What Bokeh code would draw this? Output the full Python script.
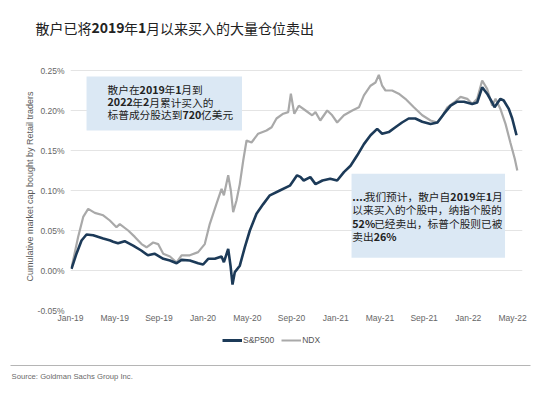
from bokeh.plotting import figure
from bokeh.models import (Range1d, Label, BoxAnnotation, Legend, LegendItem,
                          FixedTicker)
from bokeh.layouts import column
from bokeh.embed import file_html
from bokeh.resources import INLINE

# ---------------- data ----------------
X_TICKS = [0, 4, 8, 12, 16, 20, 24, 28, 32, 36, 40]
X_TICK_LABELS = ["Jan-19", "May-19", "Sep-19", "Jan-20", "May-20", "Sep-20",
                 "Jan-21", "May-21", "Sep-21", "Jan-22", "May-22"]
Y_TICKS = [-0.05, 0.0, 0.05, 0.10, 0.15, 0.20, 0.25]
Y_TICK_LABELS = ["-0.05%", "0.00%", "0.05%", "0.10%", "0.15%", "0.20%", "0.25%"]

SP_MONTH = [0.09, 0.54, 1.0, 1.45, 2.05, 2.96, 3.6, 3.86, 4.3, 4.9, 5.67, 6.4,
            7.0, 7.6, 8.4, 9.0, 9.6, 10.05, 10.8, 11.55, 12.0, 12.46, 13.06,
            13.67, 13.88, 14.27, 14.48, 14.66, 14.87, 15.32, 15.77, 16.23,
            16.83, 17.44, 18.04, 18.94, 19.85, 20.5, 20.8, 21.1, 21.7, 22.17,
            22.8, 23.5, 24.13, 24.74, 25.34, 25.95, 26.55, 27.15, 27.75, 28.2,
            28.8, 29.4, 30.0, 30.6, 31.2, 31.83, 32.58, 33.2, 33.8, 34.4, 35.0,
            35.6, 36.35, 36.8, 37.25, 37.7, 38.16, 38.37, 38.9, 39.2, 39.66,
            39.97, 40.36]
SP_VALUE = [0.002, 0.021, 0.0375, 0.045, 0.044, 0.040, 0.0375, 0.036, 0.034,
            0.0367, 0.031, 0.025, 0.019, 0.021, 0.0146, 0.0125, 0.009, 0.0133,
            0.0125, 0.009, 0.0075, 0.0146, 0.0146, 0.0175, 0.0104, 0.027,
            0.006, -0.0175, -0.002, 0.006, 0.029, 0.05, 0.071, 0.083, 0.094,
            0.100, 0.106, 0.119, 0.117, 0.1125, 0.1167, 0.108, 0.1125, 0.1146,
            0.1125, 0.123, 0.131, 0.144, 0.158, 0.169, 0.177, 0.171, 0.173,
            0.179, 0.185, 0.190, 0.190, 0.186, 0.183, 0.185, 0.196, 0.206,
            0.211, 0.211, 0.208, 0.210, 0.229, 0.221, 0.210, 0.204, 0.2146,
            0.2125, 0.202, 0.190, 0.169]

NDX_MONTH = [0.09, 0.69, 1.15, 1.6, 2.2, 2.96, 3.56, 4.16, 4.46, 5.22, 5.82,
             6.43, 6.88, 7.48, 7.93, 8.39, 9.0, 9.6, 10.05, 10.8, 11.55, 12.15,
             12.6, 13.2, 13.67, 13.88, 14.27, 14.51, 14.72, 15.02, 15.32,
             15.63, 15.93, 16.38, 16.98, 17.74, 18.2, 18.64, 19.25, 19.7,
             19.94, 20.25, 20.66, 21.27, 21.87, 22.17, 22.6, 23.23, 23.68,
             24.13, 24.74, 25.5, 26.1, 26.55, 27.15, 27.6, 27.9, 28.2, 28.5,
             29.1, 29.7, 30.3, 31.07, 31.83, 32.58, 33.2, 33.6, 34.1, 34.7,
             35.3, 35.9, 36.35, 36.8, 37.25, 37.7, 38.16, 38.46, 38.9, 39.37,
             39.8, 40.2, 40.43]
NDX_VALUE = [0.003, 0.042, 0.067, 0.077, 0.072, 0.069, 0.0625, 0.054, 0.058,
             0.050, 0.042, 0.033, 0.029, 0.035, 0.033, 0.021, 0.0175, 0.010,
             0.019, 0.019, 0.023, 0.033, 0.058, 0.083, 0.102, 0.094, 0.119,
             0.100, 0.073, 0.0875, 0.108, 0.1375, 0.1625, 0.160, 0.171, 0.175,
             0.179, 0.190, 0.196, 0.198, 0.221, 0.196, 0.206, 0.200, 0.194,
             0.198, 0.1875, 0.200, 0.194, 0.185, 0.194, 0.200, 0.204, 0.219,
             0.231, 0.235, 0.2446, 0.231, 0.225, 0.225, 0.221, 0.2146, 0.204,
             0.194, 0.1875, 0.185, 0.192, 0.204, 0.210, 0.217, 0.2146, 0.208,
             0.2146, 0.2375, 0.227, 0.206, 0.2146, 0.202, 0.183, 0.160, 0.1396,
             0.125]

SERIES_NAMES = ["S&P500", "NDX"]

TITLE = [("散户已将", False), ("2019", True), ("年", False), ("1", True),
         ("月以来买入的大量仓位卖出", False)]
NOTE1 = [
    [("散户在", False), ("2019", True), ("年", False), ("1", True), ("月到", False)],
    [("2022", True), ("年", False), ("2", True), ("月累计买入的", False)],
    [("标普成分股达到", False), ("720", True), ("亿美元", False)],
]
NOTE2 = [
    [("....", True), ("我们预计，散户自", False), ("2019", True), ("年", False),
     ("1", True), ("月", False)],
    [("以来买入的个股中，纳指个股的", False)],
    [("52%", True), ("已经卖出，标普个股则已被", False)],
    [("卖出", False), ("26%", True)],
]
SOURCE = "Source: Goldman Sachs Group Inc."

# ---------------- style ----------------
CJK = "Noto Sans CJK SC"
SANS = "Liberation Sans"
SP_COLOR = "#1c3a58"
NDX_COLOR = "#a9a9a9"
BOX_COLOR = "#dbe8f4"
W = 550
NAN = float("nan")


def text_width(s, size, bold):
    w = 0.0
    for ch in s:
        if ord(ch) >= 0x2E80:
            w += 1.0
        elif ch.isdigit():
            w += 0.58 if bold else 0.555
        elif ch == "%":
            w += 0.88 if bold else 0.83
        elif ch == ".":
            w += 0.29 if bold else 0.27
        else:
            w += 0.55
    return w * size


def rich_line(fig, x, y, segs, size, color):
    off = 0.0
    for txt, bold in segs:
        fig.add_layout(Label(x=x, y=y, x_offset=off, text=txt, text_font=CJK,
                             text_font_size=f"{size}px",
                             text_font_style="bold" if bold else "normal",
                             text_color=color, text_baseline="middle",
                             text_align="left"))
        off += text_width(txt, size, bold)


def blank(h):
    f = figure(width=W, height=h, x_range=Range1d(0, W), y_range=Range1d(0, h),
               output_backend="svg", toolbar_location=None,
               x_axis_location=None, y_axis_location=None,
               min_border_left=0, min_border_right=0, min_border_top=0,
               min_border_bottom=0, frame_align=False)
    f.grid.visible = False
    f.outline_line_color = None
    return f


# ---------------- header ----------------
header = blank(48)
rich_line(header, 35, 21, TITLE, 14, "#222222")

# ---------------- main ----------------
p = figure(width=W, height=280, output_backend="svg", toolbar_location=None,
           x_range=Range1d(0, 40.9), y_range=Range1d(-0.05, 0.26),
           min_border_left=70, min_border_right=28, min_border_top=14,
           min_border_bottom=18, frame_align=False)
p.outline_line_color = None
p.xgrid.visible = False
p.ygrid.grid_line_color = "#e4e4e4"
p.ygrid.grid_line_width = 1
p.yaxis.ticker = FixedTicker(ticks=Y_TICKS)
p.xaxis.ticker = FixedTicker(ticks=X_TICKS)
p.yaxis.major_label_overrides = {t: l for t, l in zip(Y_TICKS, Y_TICK_LABELS)}
p.xaxis.major_label_overrides = {t: l for t, l in zip(X_TICKS, X_TICK_LABELS)}
for ax in (p.xaxis[0], p.yaxis[0]):
    ax.axis_line_color = None
    ax.major_tick_line_color = None
    ax.minor_tick_line_color = None
    ax.major_tick_out = 0
    ax.major_tick_in = 0
    ax.minor_tick_out = 0
    ax.minor_tick_in = 0
    ax.major_label_text_font = SANS
    ax.major_label_text_font_size = "8.5px"
    ax.major_label_text_color = "#666666"
p.yaxis.major_label_standoff = 6
p.xaxis.major_label_standoff = 2
p.yaxis.axis_label = "Cumulative market cap bought by Retail traders"
p.yaxis.axis_label_text_font = SANS
p.yaxis.axis_label_text_font_size = "9px"
p.yaxis.axis_label_text_font_style = "normal"
p.yaxis.axis_label_text_color = "#5a5a5a"
p.yaxis.axis_label_standoff = 0

r_ndx = p.line(NDX_MONTH, NDX_VALUE, line_color=NDX_COLOR, line_width=2.2)
r_sp = p.line(SP_MONTH, SP_VALUE, line_color=SP_COLOR, line_width=2.6)

p.add_layout(BoxAnnotation(left=1.45, right=15.52, top=0.2425, bottom=0.175,
                           fill_color=BOX_COLOR, fill_alpha=1, line_color=None))
p.add_layout(BoxAnnotation(left=25.43, right=39.32, top=0.1209, bottom=0.0159,
                           fill_color=BOX_COLOR, fill_alpha=1, line_color=None))

for i, segs in enumerate(NOTE1):
    rich_line(p, 3.35, 0.226 - i * 0.0157, segs, 10.7, "#222222")
for i, segs in enumerate(NOTE2):
    rich_line(p, 25.5, 0.0925 - i * 0.0166, segs, 10.7, "#222222")

# ---------------- footer (legend + source) ----------------
footer = blank(68)
# legend-only proxies (no visible data) carrying the series styles
k_sp = footer.line(x=[NAN], y=[NAN], line_color=SP_COLOR, line_width=3)
k_ndx = footer.line(x=[NAN], y=[NAN], line_color=NDX_COLOR, line_width=2)
legend = Legend(items=[LegendItem(label=SERIES_NAMES[0], renderers=[k_sp]),
                       LegendItem(label=SERIES_NAMES[1], renderers=[k_ndx])],
                orientation="horizontal", location=(222, 51),
                label_text_font=SANS, label_text_font_size="8.5px",
                label_text_color="#555555", glyph_width=20, glyph_height=10,
                label_height=10, label_standoff=1, spacing=7, padding=0,
                margin=0, border_line_color=None, background_fill_alpha=0)
footer.add_layout(legend)
footer.add_layout(BoxAnnotation(left=10, right=530, top=31.5, bottom=30.5,
                                fill_color="#b5b5b5", fill_alpha=1,
                                line_color=None))
footer.add_layout(Label(x=11, y=20, text=SOURCE, text_font=SANS,
                        text_font_size="7.7px", text_color="#6a6a6a",
                        text_baseline="middle"))

layout = column(header, p, footer, spacing=0)
open("out.html", "w").write(file_html(layout, INLINE))
